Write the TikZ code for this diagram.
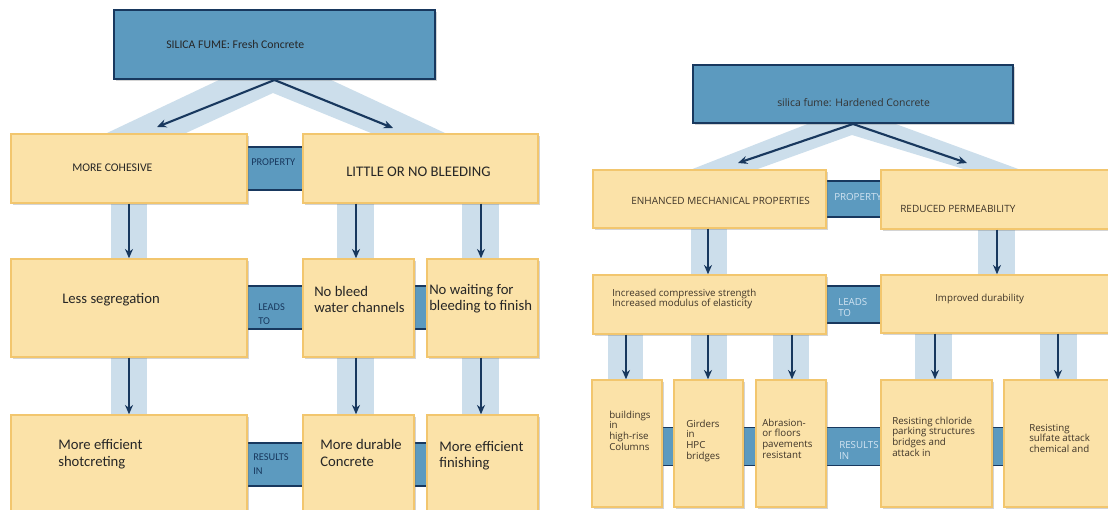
\documentclass[tikz,border=0pt]{standalone}
\usepackage{fontspec}
\setmainfont{Carlito}
\newfontfamily\osans{Open Sans}
\usetikzlibrary{arrows.meta,fit,shadows}
\definecolor{steel}{RGB}{92,154,191}
\definecolor{navy}{RGB}{24,56,94}
\definecolor{wheat}{RGB}{251,226,168}
\definecolor{gold}{RGB}{242,198,110}
\definecolor{bandc}{RGB}{204,222,235}
\definecolor{tipc}{RGB}{226,212,140}
\definecolor{rtext}{RGB}{62,52,40}
\definecolor{lconn}{RGB}{210,228,242}
\tikzset{
  shad/.style={drop shadow={shadow xshift=1.3pt,shadow yshift=-1.3pt,opacity=0.28,fill=black!60}},
  obox/.style={draw=gold,line width=1.1pt,fill=wheat,inner sep=0pt,shad},
  tbox/.style={draw=navy,line width=1.5pt,fill=steel,inner sep=0pt,shad},
  conn/.style={fill=steel,draw=none,inner sep=0pt},
  connedge/.style={draw=navy,line width=1.4pt},
  arr/.style={draw=navy,line width=1.6pt,-{Stealth[length=7pt,width=6pt,fill=tipc]}},
  txt/.style={anchor=base west,inner sep=0pt,align=left},
  lsm/.style={txt,font=\fontsize{8.8pt}{10.5pt}\selectfont,text=black!85},
  lbig/.style={txt,font=\fontsize{11pt}{12pt}\selectfont,text=black!85},
  lrow/.style={txt,font=\fontsize{11pt}{12.75pt}\selectfont,text=black!85},
  lcn/.style={txt,font=\fontsize{7.8pt}{10.5pt}\selectfont,text=navy},
  rt/.style={txt,font=\osans\fontsize{7.3pt}{8.1pt}\selectfont,text=rtext},
  rcn/.style={txt,font=\osans\fontsize{7.3pt}{8.1pt}\selectfont,text=lconn},
}
\begin{document}
\begin{tikzpicture}[x=0.75pt,y=-0.75pt]
\useasboundingbox (0,0) rectangle (1108,510);
\clip (0,0) rectangle (1108,510);
% ---------- light bands ----------
\fill[bandc] (107,133) -- (221,79) -- (329,79) -- (445,133) -- (371,133) -- (273,93) -- (186,133) -- cycle;
\fill[bandc] (111,200) rectangle (147,418);
\fill[bandc] (337,200) rectangle (374,418);
\fill[bandc] (462,200) rectangle (499,418);
\fill[bandc] (690,170) -- (810,123) -- (893,123) -- (1021,170) -- (967,170) -- (852,135) -- (755,170) -- cycle;
\fill[bandc] (691,225) rectangle (727,278);
\fill[bandc] (978,225) rectangle (1015,278);
\fill[bandc] (608,330) rectangle (643,383);
\fill[bandc] (691,330) rectangle (727,383);
\fill[bandc] (773,330) rectangle (809,383);
\fill[bandc] (915,330) rectangle (952,383);
\fill[bandc] (1040,330) rectangle (1077,383);
% ---------- connector bars ----------
\node[conn,fit={(240,147) (310,190)}] (c1) {};
\node[conn,fit={(240,286) (434,329)}] (c2) {};
\node[conn,fit={(240,443) (434,486)}] (c3) {};
\node[conn,fit={(820,181) (886,217)}] (c4) {};
\node[conn,fit={(820,286) (886,323)}] (c5) {};
\node[conn,fit={(600,428) (1100,465)}] (c6) {};
\foreach \c in {c1,c2,c3,c4,c5}{
  \draw[connedge] (\c.north west) -- (\c.north east) (\c.south west) -- (\c.south east);}
\draw[connedge,line width=0.8pt] (c6.north west) -- (c6.north east) (c6.south west) -- (c6.south east);
\node[lcn] (t1) at (251,166) {PROPERTY};
\node[lcn] (t2) at (258,324) {LEADS\\TO};
\node[lcn] (t3) at (253,474) {RESULTS\\IN};
\node[rcn] (t4) at (834,200) {PROPERTY};
\node[rcn] (t5) at (838,316.3) {LEADS\\TO};
\node[rcn] (t6) at (839,459.3) {RESULTS\\IN};
% ---------- left boxes ----------
\node[tbox,fit={(114,10) (435,79)}] (tl) {};
\node[obox,fit={(11,134) (247,203)}] (mc) {};
\node[obox,fit={(303,134) (538,203)}] (lb) {};
\node[obox,fit={(11,259) (247,357)}] (ls) {};
\node[obox,fit={(303,259) (414,357)}] (nb) {};
\node[obox,fit={(427,259) (538,357)}] (nw) {};
\node[obox,fit={(11,415) (247,520)}] (me) {};
\node[obox,fit={(303,415) (414,520)}] (md) {};
\node[obox,fit={(427,415) (538,520)}] (mf) {};
% ---------- right boxes ----------
\node[tbox,fit={(693,65) (1013,123)}] (tr) {};
\node[obox,fit={(593,170) (826,228)}] (em) {};
\node[obox,fit={(881,170) (1120,229)}] (rp) {};
\node[obox,fit={(593,275) (826,334)}] (ic) {};
\node[obox,fit={(881,275) (1120,333)}] (id) {};
\node[obox,fit={(592,380) (662,507)}] (b1) {};
\node[obox,fit={(674,380) (743,507)}] (b2) {};
\node[obox,fit={(756,380) (826,507)}] (b3) {};
\node[obox,fit={(881,380) (992,507)}] (b4) {};
\node[obox,fit={(1004,380) (1120,507)}] (b5) {};
% ---------- left texts ----------
\node[lsm] (l1) at (166,48.5) {SILICA FUME: Fresh Concrete};
\node[lsm] (l2) at (72,171.5) {MORE COHESIVE};
\node[lbig] (l3) at (346,176) {LITTLE OR NO BLEEDING};
\node[lrow] (l4) at (62,303) {Less segregation};
\node[lbig] (l5) at (314,312) {No bleed\\water channels};
\node[lbig] (l6) at (429,310) {No waiting for\\bleeding to finish};
\node[lrow] (l7) at (58,466) {More efficient\\shotcreting};
\node[lrow] (l8) at (320,466) {More durable\\Concrete};
\node[lbig] (l9) at (439,467) {More efficient\\finishing};
% ---------- right texts ----------
\node[rt,font=\osans\fontsize{7.8pt}{9pt}\selectfont,text=black!80] (r1) at (777,106.5) {silica fume: Hardened Concrete};
\node[rt,font=\osans\fontsize{7.5pt}{9pt}\selectfont] (r2) at (631,204.5) {ENHANCED MECHANICAL PROPERTIES};
\node[rt,font=\osans\fontsize{7.5pt}{9pt}\selectfont] (r3) at (900,212.5) {REDUCED PERMEABILITY};
\node[rt] (r4) at (612,306.8) {Increased compressive strength\\Increased modulus of elasticity};
\node[rt] (r5) at (935,301.5) {Improved durability};
\node[rt] (r6) at (609,450.4) {buildings\\in\\high-rise\\Columns};
\node[rt] (r7) at (686,459.4) {Girders\\in\\HPC\\bridges};
\node[rt] (r8) at (762,458.4) {Abrasion-\\or floors\\pavements\\resistant};
\node[rt] (r9) at (892,456.4) {Resisting chloride\\parking structures\\bridges and\\attack in};
\node[rt] (r10) at (1029,452.6) {Resisting\\sulfate attack\\chemical and};
% ---------- arrows ----------
\coordinate (ltipA) at (157,127);
\coordinate (ltipB) at (393,128);
\coordinate (rtipA) at (738,163);
\coordinate (rtipB) at (967,163);
\coordinate (xa) at (129,0);
\coordinate (xb) at (356,0);
\coordinate (xc) at (481,0);
\coordinate (xd) at (708,0);
\coordinate (xe) at (997,0);
\coordinate (xf) at (626,0);
\coordinate (xg) at (792,0);
\coordinate (xh) at (935,0);
\coordinate (xi) at (1058,0);
\draw[arr] (tl.south) -- (ltipA);
\draw[arr] (tl.south) -- (ltipB);
\draw[arr] (mc.south -| xa) -- (ls.north -| xa);
\draw[arr] (lb.south -| xb) -- (nb.north -| xb);
\draw[arr] (lb.south -| xc) -- (nw.north -| xc);
\draw[arr] (ls.south -| xa) -- (me.north -| xa);
\draw[arr] (nb.south -| xb) -- (md.north -| xb);
\draw[arr] (nw.south -| xc) -- (mf.north -| xc);
\draw[arr] (tr.south) -- (rtipA);
\draw[arr] (tr.south) -- (rtipB);
\draw[arr] (em.south -| xd) -- (ic.north -| xd);
\draw[arr] (rp.south -| xe) -- (id.north -| xe);
\draw[arr] (ic.south -| xf) -- (b1.north -| xf);
\draw[arr] (ic.south -| xd) -- (b2.north -| xd);
\draw[arr] (ic.south -| xg) -- (b3.north -| xg);
\draw[arr] (id.south -| xh) -- (b4.north -| xh);
\draw[arr] (id.south -| xi) -- (b5.north -| xi);
\end{tikzpicture}
\end{document}
